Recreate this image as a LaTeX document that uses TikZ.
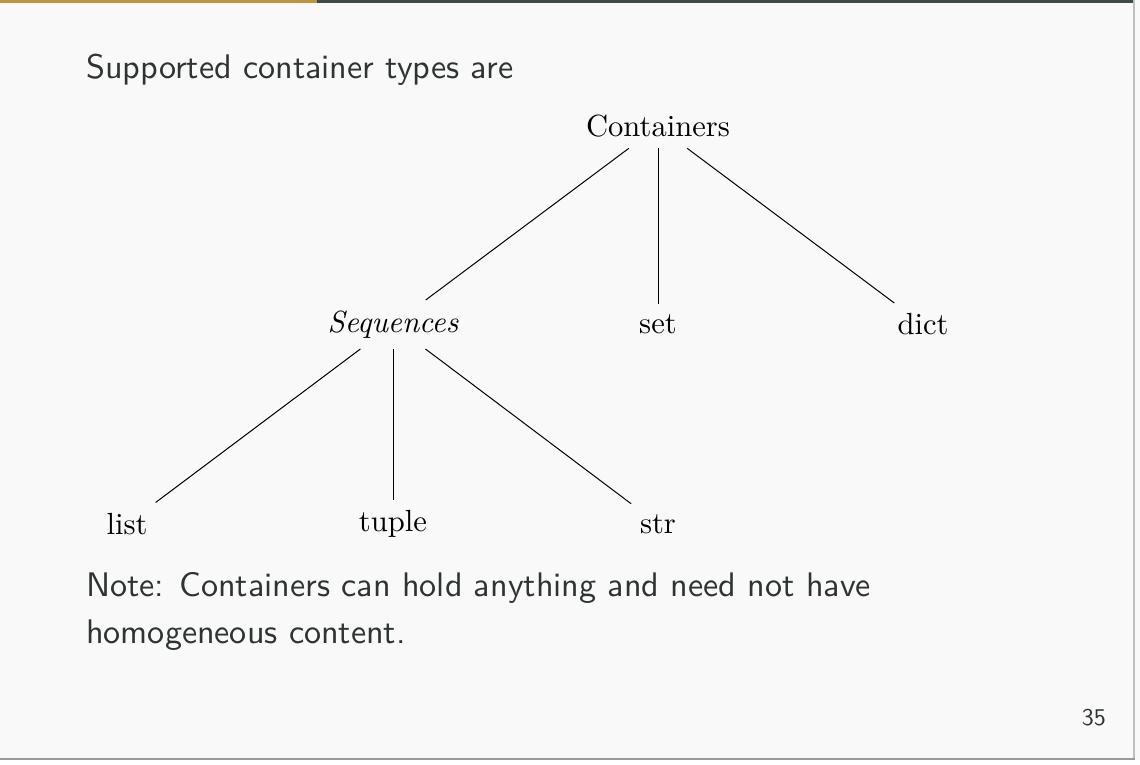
\documentclass[tikz,border=0pt]{standalone}
\usepackage{fontspec}
\setmainfont{lmroman10-regular.otf}[ItalicFont=lmroman10-italic.otf]
\setsansfont{lmsans10-regular.otf}
\definecolor{bgc}{HTML}{F9F9F9}
\definecolor{barorange}{HTML}{C0913F}
\definecolor{bardark}{HTML}{3E4A4A}
\definecolor{txtc}{HTML}{2E3333}
\begin{document}
\begin{tikzpicture}[x=1pt,y=-1pt,
  tnode/.style={font=\rmfamily\fontsize{30.6}{37}\selectfont, inner sep=10.5pt},
  tedge/.style={draw=black, line width=1pt},
  slide/.style={font=\sffamily\fontsize{34.1}{47}\selectfont, text=txtc, anchor=base west, inner sep=0}]
\useasboundingbox (0,0) rectangle (1140,765);
\fill[bgc] (0,0) rectangle (1140,765);
% frame decorations
\fill[bardark] (0,0) rectangle (1134,3);
\fill[barorange] (0,0) rectangle (317,3);
\fill[black!25] (1133,0) rectangle (1135,760);
\fill[black!40] (0,758) rectangle (1135,760);
\fill[white] (0,760) rectangle (1140,765);
% slide text
\node[slide] (intro) at (86,79) {Supported container types are};
\node[slide] (note1) at (86,596) {Note: Containers can hold anything and need not have};
\node[slide] (note2) at (86,643) {homogeneous content.};
\node[font=\sffamily\fontsize{24}{28}\selectfont, text=txtc, anchor=base east, inner sep=0] (page) at (1106,725) {35};
% tree
\node[tnode] (cont) at (658,126.5) {Containers};
\node[tnode] (seq) at (393,324.5) {\itshape Sequences};
\node[tnode] (set) at (658,324.5) {set};
\node[tnode] (dict) at (923,324.5) {dict};
\node[tnode] (list) at (127,524) {list};
\node[tnode] (tuple) at (393,524) {tuple};
\node[tnode] (str) at (658,524) {str};
\draw[tedge] (cont) -- (seq);
\draw[tedge] (cont) -- (set);
\draw[tedge] (cont) -- (dict);
\draw[tedge] (seq) -- (list);
\draw[tedge] (seq) -- (tuple);
\draw[tedge] (seq) -- (str);
\end{tikzpicture}
\end{document}
